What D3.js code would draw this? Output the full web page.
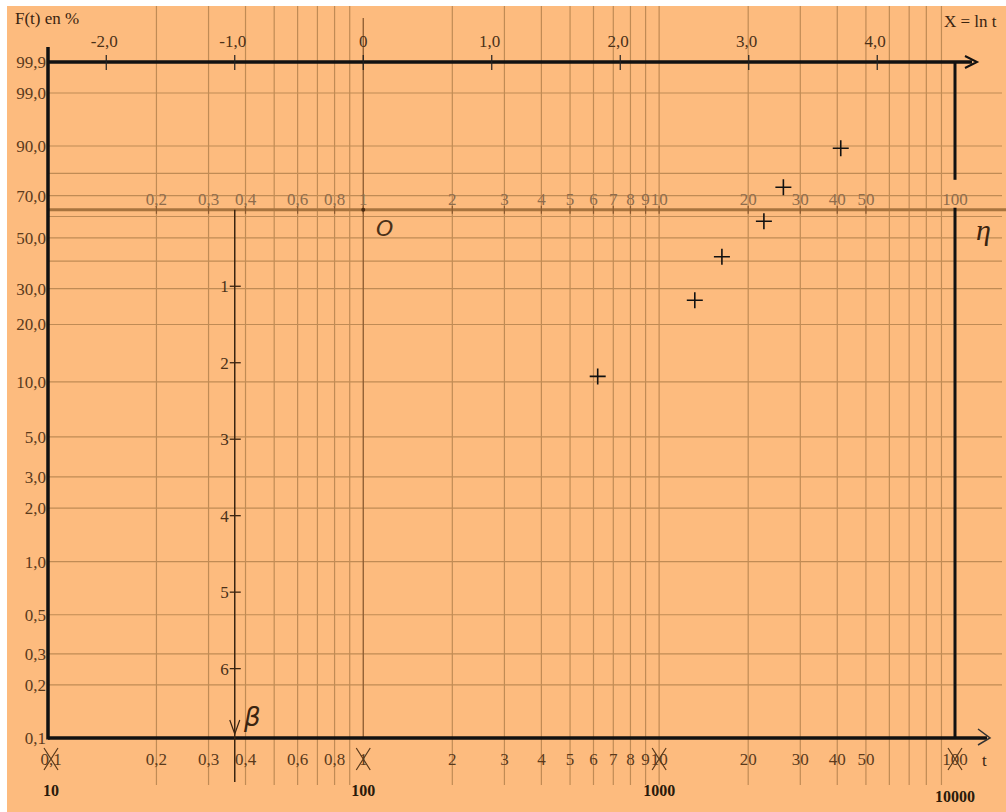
<!DOCTYPE html>
<html>
<head>
<meta charset="utf-8">
<script src="https://cdn.jsdelivr.net/npm/d3@7"></script>
<style>
  body { margin: 0; background: #fff; }
  svg { display: block; }
  text { font-family: "Liberation Serif", "DejaVu Serif", serif; }
</style>
</head>
<body>
<div id="chart"></div>
<script>
// Weibull paper (Allan Plait)

const svgWidth = 1006, svgHeight = 812;

// data: failure times (in units of the eta scale) and F(t) in %
const times = [6.2, 13.2, 16.3, 22.6, 26.3, 41.1];
const failPct = [10.7, 26.4, 41.8, 57.7, 73.9, 89.3];

// scale labels
const fTicks = [99.9, 99.0, 90.0, 70.0, 50.0, 30.0, 20.0, 10.0, 5.0, 3.0, 2.0, 1.0, 0.5, 0.3, 0.2, 0.1];
const fGrid = [99.0, 90.0, 80.0, 70.0, 60.0, 50.0, 40.0, 30.0, 20.0, 10.0, 5.0, 3.0, 2.0, 1.0, 0.5, 0.3, 0.2];
const lnTicks = [-2, -1, 0, 1, 2, 3, 4];
const tGrid = [0.2, 0.3, 0.4, 0.5, 0.6, 0.7, 0.8, 0.9, 2, 3, 4, 5, 6, 7, 8, 9, 10, 20, 30, 40, 50, 60, 70, 80, 90];
const tLabels = [0.2, 0.3, 0.4, 0.6, 0.8, 1, 2, 3, 4, 5, 6, 7, 8, 9, 10, 20, 30, 40, 50, 100];
const crossed = [0.1, 1, 10, 100];
const hoursLabels = ["10", "100", "1000", "10000"];
const betaTicks = [1, 2, 3, 4, 5, 6];

const fmt = v => String(v).replace(".", ",");
const fmt1 = v => v.toFixed(1).replace(".", ",");
const weib = p => Math.log(-Math.log(1 - p / 100));

const svg = d3.select('#chart').append('svg')
  .attr('width', svgWidth)
  .attr('height', svgHeight);

// paper
svg.append('rect')
  .attr('x', 7).attr('y', 6)
  .attr('width', svgWidth - 7).attr('height', svgHeight - 6)
  .attr('fill', '#fdbb7e');

// scales
const x = d3.scaleLog().domain([0.086, 100]).range([48, 955]);
const y = d3.scaleLinear().domain([weib(0.1), weib(99.9)]).range([738, 62]);
const xLn = v => x(Math.exp(v));

const xLeft = 48, yTop = y(weib(99.9)), yBot = y(weib(0.1)), yEta = y(0);
const gridCol = '#c08b55';

// vertical grid
svg.append('g').selectAll('line')
  .data(tGrid)
  .enter().append('line')
    .attr('x1', d => x(d)).attr('x2', d => x(d))
    .attr('y1', 6).attr('y2', 785)
    .attr('stroke', gridCol).attr('stroke-width', 1.2);

// horizontal grid
svg.append('g').selectAll('line')
  .data(fGrid)
  .enter().append('line')
    .attr('x1', xLeft).attr('x2', 1002)
    .attr('y1', d => y(weib(d))).attr('y2', d => y(weib(d)))
    .attr('stroke', gridCol).attr('stroke-width', 1.2);

// t = 1 line
svg.append('line')
  .attr('x1', x(1)).attr('x2', x(1))
  .attr('y1', 18).attr('y2', yBot)
  .attr('stroke', '#8a5a30').attr('stroke-width', 1.3);

// eta axis (Y = 0)
svg.append('line')
  .attr('x1', xLeft).attr('x2', 1006)
  .attr('y1', yEta).attr('y2', yEta)
  .attr('stroke', '#a8743f').attr('stroke-width', 3);

// eta labels and ticks
const etaG = svg.append('g');
etaG.selectAll('line')
  .data(tLabels.filter(d => d !== 100))
  .enter().append('line')
    .attr('x1', d => x(d)).attr('x2', d => x(d))
    .attr('y1', yEta - 4).attr('y2', yEta + 4)
    .attr('stroke', '#8a5a30').attr('stroke-width', 1.2);
etaG.selectAll('text')
  .data(tLabels)
  .enter().append('text')
    .attr('x', d => x(d))
    .attr('y', yEta - 5)
    .attr('text-anchor', 'middle')
    .style('font-size', '17px')
    .attr('fill', '#8e6c4c')
    .text(d => fmt(d));
svg.append('circle').attr('cx', x(1)).attr('cy', yEta).attr('r', 2).attr('fill', '#4a2a10');

// right vertical (t = 100), broken around the label
svg.append('line')
  .attr('x1', x(100)).attr('x2', x(100))
  .attr('y1', yTop).attr('y2', yEta - 30)
  .attr('stroke', '#111').attr('stroke-width', 3);
svg.append('line')
  .attr('x1', x(100)).attr('x2', x(100))
  .attr('y1', yEta - 2).attr('y2', yBot)
  .attr('stroke', '#111').attr('stroke-width', 3);

// top axis X = ln t
svg.append('line')
  .attr('x1', xLeft).attr('x2', 972)
  .attr('y1', yTop).attr('y2', yTop)
  .attr('stroke', '#111').attr('stroke-width', 3.5);
svg.append('path')
  .attr('d', `M965,${yTop - 6}L977,${yTop}L965,${yTop + 6}`)
  .attr('fill', 'none').attr('stroke', '#111').attr('stroke-width', 2);
const topG = svg.append('g');
topG.selectAll('line')
  .data(lnTicks)
  .enter().append('line')
    .attr('x1', d => xLn(d)).attr('x2', d => xLn(d))
    .attr('y1', yTop - 7).attr('y2', yTop + 8)
    .attr('stroke', '#222').attr('stroke-width', 1.2);
topG.selectAll('text')
  .data(lnTicks)
  .enter().append('text')
    .attr('x', d => xLn(d) - (d === 0 ? 0 : 2))
    .attr('y', yTop - 15)
    .attr('text-anchor', 'middle')
    .style('font-size', '17px')
    .attr('fill', '#4a3018')
    .text(d => d === 0 ? '0' : fmt1(d));

// left axis
svg.append('line')
  .attr('x1', xLeft).attr('x2', xLeft)
  .attr('y1', 47).attr('y2', yBot + 1.5)
  .attr('stroke', '#111').attr('stroke-width', 3.5);
svg.append('g').selectAll('text')
  .data(fTicks)
  .enter().append('text')
    .attr('x', xLeft - 2)
    .attr('y', d => y(weib(d)) + 6)
    .attr('text-anchor', 'end')
    .style('font-size', '17px')
    .attr('fill', '#5a3a1c')
    .text(d => fmt1(d));

// bottom axis t
svg.append('line')
  .attr('x1', xLeft).attr('x2', 987)
  .attr('y1', yBot).attr('y2', yBot)
  .attr('stroke', '#111').attr('stroke-width', 3.5);
svg.append('path')
  .attr('d', `M978,${yBot - 9}L990,${yBot}L978,${yBot + 7}`)
  .attr('fill', 'none').attr('stroke', '#333').attr('stroke-width', 1.5);
const botG = svg.append('g');
botG.selectAll('text')
  .data(tLabels.concat([0.1]))
  .enter().append('text')
    .attr('x', d => d === 0.1 ? xLeft + 3 : x(d))
    .attr('y', yBot + 27)
    .attr('text-anchor', 'middle')
    .style('font-size', '17px')
    .attr('fill', '#5a3a1c')
    .text(d => fmt(d));
botG.selectAll('path')
  .data(crossed)
  .enter().append('path')
    .attr('d', d => {
      const cx = d === 0.1 ? xLeft + 3 : x(d), cy = yBot + 21;
      return `M${cx - 7},${cy - 11}L${cx + 7},${cy + 11}M${cx + 7},${cy - 11}L${cx - 7},${cy + 11}`;
    })
    .attr('stroke', '#5a3a1c').attr('stroke-width', 1.2);
botG.selectAll('text.hours')
  .data(crossed)
  .enter().append('text')
    .attr('class', 'hours')
    .attr('x', d => d === 0.1 ? xLeft + 3 : x(d))
    .attr('y', (d, i) => yBot + (i === 3 ? 64 : 58))
    .attr('text-anchor', 'middle')
    .style('font-size', '16px')
    .style('font-weight', 'bold')
    .attr('fill', '#2a1a0a')
    .text((d, i) => hoursLabels[i]);

// beta axis at X = -1
const xb = xLn(-1);
svg.append('line')
  .attr('x1', xb).attr('x2', xb)
  .attr('y1', yEta).attr('y2', 782)
  .attr('stroke', '#3a2410').attr('stroke-width', 1.5);
svg.append('path')
  .attr('d', `M${xb - 5},${yBot - 18}L${xb},${yBot - 4}L${xb + 5},${yBot - 18}`)
  .attr('fill', 'none').attr('stroke', '#3a2410').attr('stroke-width', 1.2);
const betaG = svg.append('g');
betaG.selectAll('line')
  .data(betaTicks)
  .enter().append('line')
    .attr('x1', xb - 5).attr('x2', xb + 6)
    .attr('y1', d => y(-d)).attr('y2', d => y(-d))
    .attr('stroke', '#3a2410').attr('stroke-width', 1.3);
betaG.selectAll('text')
  .data(betaTicks)
  .enter().append('text')
    .attr('x', xb - 6)
    .attr('y', d => y(-d) + 6)
    .attr('text-anchor', 'end')
    .style('font-size', '17px')
    .attr('fill', '#4a3018')
    .text(d => d);

// titles and symbols
svg.append('text').attr('x', 15).attr('y', 24)
  .style('font-size', '17px').attr('fill', '#3a2410').text('F(t) en %');
svg.append('text').attr('x', 944).attr('y', 27)
  .style('font-size', '17px').attr('fill', '#3a2410').text('X = ln t');
svg.append('text').attr('x', 376).attr('y', 236)
  .style('font-size', '22px').style('font-style', 'italic')
  .style('font-family', 'DejaVu Sans').attr('fill', '#4a3018').text('O');
svg.append('text').attr('x', 976).attr('y', 240)
  .style('font-size', '30px').style('font-style', 'italic').attr('fill', '#3a2410').text('η');
svg.append('text').attr('x', 244).attr('y', 726)
  .style('font-size', '26px').style('font-style', 'italic')
  .style('font-family', 'DejaVu Sans').attr('fill', '#3a2410').text('β');
svg.append('text').attr('x', 982).attr('y', 766)
  .style('font-size', '17px').attr('fill', '#3a2410').text('t');

// points
const pts = times.map((t, i) => ({t: t, f: failPct[i]}));
svg.append('g').selectAll('path')
  .data(pts)
  .enter().append('path')
    .attr('d', d => {
      const px = x(d.t), py = y(weib(d.f));
      return `M${px - 8},${py}L${px + 8},${py}M${px},${py - 8}L${px},${py + 8}`;
    })
    .attr('stroke', '#111').attr('stroke-width', 1.6);
</script>
</body>
</html>
